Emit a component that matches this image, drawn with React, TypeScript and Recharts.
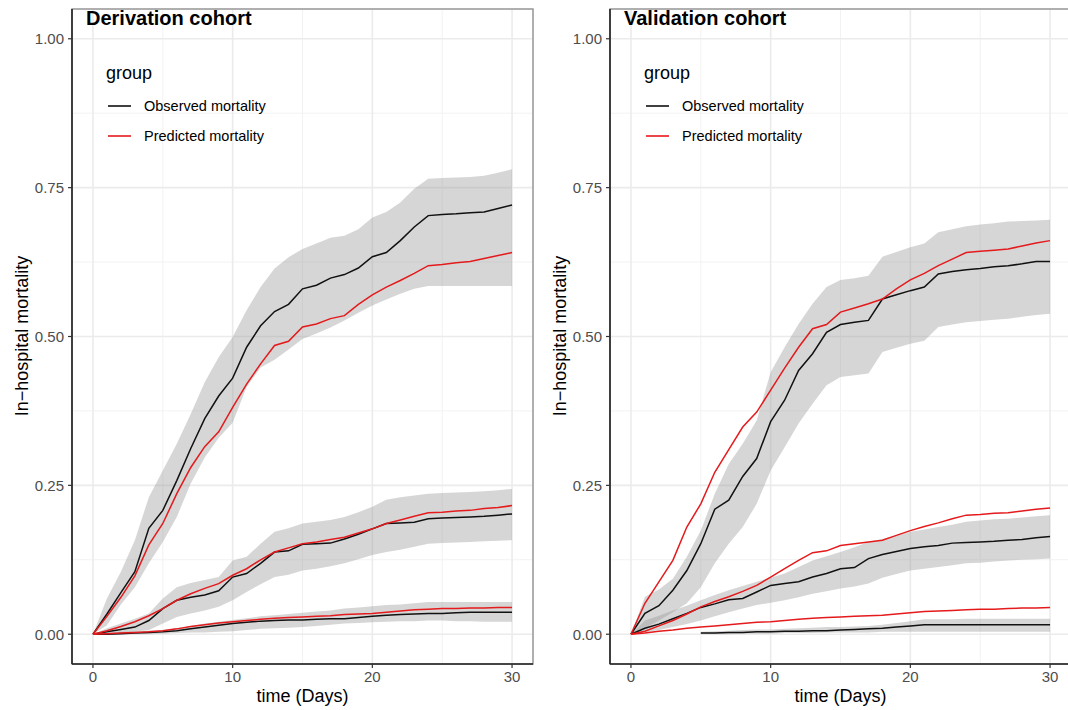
import React from 'react';
import { ComposedChart, Line, Area, XAxis, YAxis, CartesianGrid, Legend, ReferenceArea } from 'recharts';

const FONT = '"Liberation Sans", Arial, Helvetica, sans-serif';

const days = [0,1,2,3,4,5,6,7,8,9,10,11,12,13,14,15,16,17,18,19,20,21,22,23,24,25,26,27,28,29,30];
const xTicks = [0, 10, 20, 30];
const xMinorTicks = [5, 15, 25];
const yTicks = [0, 0.25, 0.5, 0.75, 1];
const yMinorTicks = [0.125, 0.375, 0.625, 0.875];
const legendLabels = ['Observed mortality', 'Predicted mortality'];
const panelTitles = ['Derivation cohort', 'Validation cohort'];

// Derivation cohort
const derHighObs = [0,0.034,0.07,0.105,0.178,0.208,0.258,0.312,0.362,0.4,0.43,0.482,0.518,0.542,0.554,0.58,0.586,0.598,0.604,0.615,0.634,0.641,0.661,0.684,0.703,0.705,0.706,0.708,0.709,0.715,0.721];
const derHighPred = [0,0.03,0.062,0.098,0.15,0.186,0.236,0.28,0.315,0.34,0.381,0.42,0.454,0.485,0.492,0.516,0.521,0.53,0.535,0.554,0.57,0.583,0.594,0.606,0.619,0.621,0.624,0.626,0.631,0.636,0.641];
const derHighLo = [0,0.015,0.05,0.079,0.119,0.155,0.197,0.253,0.297,0.33,0.355,0.415,0.448,0.461,0.478,0.496,0.505,0.515,0.527,0.54,0.552,0.562,0.572,0.58,0.585,0.585,0.585,0.585,0.585,0.585,0.585];
const derHighHi = [0,0.06,0.105,0.158,0.23,0.275,0.32,0.37,0.423,0.465,0.499,0.544,0.583,0.614,0.633,0.647,0.656,0.666,0.669,0.68,0.7,0.709,0.725,0.748,0.765,0.766,0.767,0.768,0.77,0.775,0.781];

const derMedObs = [0,0.004,0.008,0.012,0.023,0.043,0.057,0.062,0.066,0.073,0.096,0.102,0.119,0.138,0.14,0.151,0.152,0.153,0.16,0.168,0.177,0.186,0.187,0.188,0.194,0.195,0.196,0.197,0.198,0.2,0.202];
const derMedPred = [0,0.006,0.013,0.021,0.031,0.043,0.057,0.068,0.077,0.085,0.099,0.11,0.125,0.138,0.145,0.152,0.155,0.159,0.163,0.17,0.177,0.186,0.192,0.198,0.204,0.205,0.207,0.208,0.211,0.213,0.216];
const derMedLo = [0,0.001,0.002,0.004,0.007,0.018,0.029,0.035,0.04,0.046,0.057,0.071,0.084,0.096,0.1,0.107,0.11,0.114,0.119,0.126,0.133,0.138,0.142,0.147,0.152,0.153,0.154,0.155,0.156,0.157,0.158];
const derMedHi = [0,0.01,0.018,0.026,0.035,0.06,0.079,0.086,0.091,0.096,0.124,0.13,0.152,0.172,0.178,0.186,0.189,0.192,0.197,0.205,0.214,0.226,0.23,0.233,0.236,0.237,0.238,0.239,0.24,0.242,0.244];

const derLowObs = [0,0,0.001,0.002,0.003,0.004,0.006,0.009,0.012,0.015,0.018,0.02,0.022,0.023,0.024,0.024,0.025,0.026,0.026,0.028,0.03,0.032,0.033,0.034,0.035,0.035,0.036,0.037,0.037,0.037,0.037];
const derLowPred = [0,0.001,0.002,0.003,0.004,0.006,0.009,0.013,0.016,0.019,0.021,0.023,0.025,0.027,0.028,0.029,0.03,0.031,0.033,0.034,0.035,0.037,0.039,0.041,0.042,0.043,0.043,0.044,0.044,0.045,0.045];
const derLowLo = [0,0,0,0,0,0.001,0.002,0.003,0.003,0.004,0.005,0.007,0.009,0.01,0.011,0.012,0.014,0.016,0.018,0.019,0.02,0.021,0.022,0.022,0.023,0.023,0.022,0.022,0.021,0.021,0.021];
const derLowHi = [0,0.002,0.004,0.005,0.006,0.007,0.01,0.014,0.018,0.021,0.024,0.027,0.03,0.032,0.034,0.036,0.038,0.04,0.043,0.045,0.047,0.049,0.05,0.052,0.054,0.054,0.054,0.054,0.054,0.054,0.054];

// Validation cohort
const valHighObs = [0,0.035,0.048,0.074,0.107,0.152,0.21,0.225,0.265,0.295,0.357,0.393,0.443,0.471,0.507,0.52,0.524,0.527,0.563,0.57,0.577,0.583,0.605,0.609,0.612,0.614,0.617,0.619,0.622,0.626,0.626];
const valHighPred = [0,0.052,0.088,0.124,0.18,0.219,0.272,0.31,0.348,0.373,0.41,0.447,0.482,0.513,0.52,0.541,0.548,0.555,0.563,0.58,0.595,0.606,0.619,0.63,0.641,0.643,0.645,0.647,0.652,0.657,0.661];
const valHighLo = [0,0.01,0.023,0.037,0.052,0.079,0.119,0.152,0.18,0.219,0.275,0.314,0.354,0.387,0.418,0.432,0.435,0.438,0.474,0.481,0.488,0.493,0.516,0.52,0.524,0.526,0.528,0.53,0.533,0.536,0.538];
const valHighHi = [0,0.063,0.075,0.093,0.13,0.174,0.236,0.286,0.32,0.359,0.44,0.482,0.521,0.555,0.583,0.595,0.598,0.602,0.634,0.642,0.65,0.656,0.675,0.68,0.685,0.688,0.69,0.693,0.694,0.695,0.696];

const valMedObs = [0,0.01,0.017,0.026,0.035,0.045,0.051,0.058,0.06,0.071,0.082,0.085,0.088,0.096,0.102,0.11,0.112,0.127,0.134,0.139,0.144,0.147,0.149,0.153,0.154,0.155,0.156,0.158,0.159,0.162,0.164];
const valMedPred = [0,0.005,0.014,0.023,0.034,0.046,0.055,0.063,0.072,0.082,0.096,0.11,0.124,0.137,0.14,0.149,0.152,0.155,0.158,0.166,0.174,0.181,0.187,0.194,0.2,0.201,0.203,0.204,0.207,0.21,0.212];
const valMedLo = [0,0.003,0.007,0.012,0.017,0.023,0.03,0.037,0.043,0.049,0.053,0.057,0.062,0.068,0.072,0.077,0.08,0.085,0.095,0.101,0.107,0.11,0.113,0.116,0.119,0.12,0.122,0.124,0.125,0.126,0.127];
const valMedHi = [0,0.023,0.031,0.04,0.048,0.057,0.066,0.074,0.081,0.088,0.095,0.102,0.113,0.124,0.131,0.138,0.146,0.155,0.16,0.166,0.172,0.176,0.18,0.184,0.189,0.191,0.193,0.194,0.196,0.198,0.2];

const valLowObs = [null,null,null,null,null,0.002,0.002,0.003,0.003,0.004,0.004,0.005,0.005,0.006,0.006,0.007,0.008,0.009,0.01,0.012,0.014,0.016,0.016,0.016,0.016,0.016,0.016,0.016,0.016,0.016,0.016];
const valLowPred = [0,0.002,0.005,0.007,0.01,0.012,0.014,0.016,0.018,0.02,0.021,0.023,0.025,0.027,0.028,0.029,0.03,0.031,0.032,0.034,0.036,0.038,0.039,0.04,0.041,0.042,0.042,0.043,0.044,0.044,0.045];
const valLowLo = [null,null,null,null,null,0,0,0,0.001,0.001,0.001,0.002,0.002,0.002,0.003,0.003,0.003,0.003,0.004,0.004,0.004,0.004,0.004,0.004,0.004,0.004,0.004,0.004,0.004,0.004,0.004];
const valLowHi = [null,null,null,null,null,0.004,0.005,0.006,0.007,0.008,0.008,0.009,0.01,0.011,0.012,0.012,0.013,0.014,0.016,0.019,0.022,0.025,0.025,0.025,0.026,0.026,0.026,0.026,0.026,0.026,0.026];

type Group = { obs: (number | null)[]; pred: (number | null)[]; lo: (number | null)[]; hi: (number | null)[] };

const derGroups: Group[] = [
  { obs: derLowObs, pred: derLowPred, lo: derLowLo, hi: derLowHi },
  { obs: derMedObs, pred: derMedPred, lo: derMedLo, hi: derMedHi },
  { obs: derHighObs, pred: derHighPred, lo: derHighLo, hi: derHighHi },
];
const valGroups: Group[] = [
  { obs: valLowObs, pred: valLowPred, lo: valLowLo, hi: valLowHi },
  { obs: valMedObs, pred: valMedPred, lo: valMedLo, hi: valMedHi },
  { obs: valHighObs, pred: valHighPred, lo: valHighLo, hi: valHighHi },
];

function buildRows(groups: Group[]) {
  return days.map((d, i) => {
    const row: Record<string, any> = { day: d };
    groups.forEach((g, k) => {
      row['obs' + k] = g.obs[i];
      row['pred' + k] = g.pred[i];
      row['band' + k] = g.lo[i] == null || g.hi[i] == null ? null : [g.lo[i], g.hi[i]];
    });
    return row;
  });
}

const OBS_COLOR = '#111111';
const PRED_COLOR = '#e41a1c';
const X_DOMAIN: [number, number] = [-1.5, 31.5];
const Y_DOMAIN: [number, number] = [-0.05, 1.05];

const PanelLegend = ({ title }: { title: string }) => (
  <div style={{ position: 'relative', width: 320, height: 160, fontFamily: FONT, color: '#000' }}>
    <div style={{ position: 'absolute', left: 86, top: 8, fontSize: 20, lineHeight: '20px', fontWeight: 'bold', whiteSpace: 'nowrap' }}>{title}</div>
    <div style={{ position: 'absolute', left: 106, top: 63, fontSize: 18, lineHeight: '20px' }}>group</div>
    {[OBS_COLOR, PRED_COLOR].map((c, i) => (
      <React.Fragment key={i}>
        <svg style={{ position: 'absolute', left: 108, top: 101 + i * 30 }} width={23} height={10}>
          <line x1={0} y1={5} x2={23} y2={5} stroke={c} strokeWidth={1.6} />
        </svg>
        <div style={{ position: 'absolute', left: 144, top: 97 + i * 30, fontSize: 14.5, lineHeight: '18px', whiteSpace: 'nowrap' }}>{legendLabels[i]}</div>
      </React.Fragment>
    ))}
  </div>
);

function Panel({ groups, title, left }: { groups: Group[]; title: string; left: number }) {
  const rows = buildRows(groups);
  return (
    <div style={{ position: 'absolute', left, top: 0 }}>
      <ComposedChart width={541} height={710} data={rows} margin={{ top: 9, right: 8, bottom: 6, left: 12 }}>
        <XAxis xAxisId="minor" dataKey="day" type="number" domain={X_DOMAIN} ticks={xMinorTicks} hide allowDataOverflow />
        <YAxis yAxisId="minor" type="number" domain={Y_DOMAIN} ticks={yMinorTicks} hide allowDataOverflow />
        <CartesianGrid xAxisId="minor" yAxisId="minor" stroke="#f2f2f2" strokeWidth={1} />
        <CartesianGrid stroke="#ebebeb" strokeWidth={1.6} />
        <XAxis
          dataKey="day"
          type="number"
          domain={X_DOMAIN}
          ticks={xTicks}
          allowDataOverflow
          height={40}
          tickSize={4}
          tickMargin={3}
          axisLine={{ stroke: '#222', strokeWidth: 1.6 }}
          tickLine={{ stroke: '#333', strokeWidth: 1.2 }}
          tick={{ fill: '#4d4d4d', fontSize: 15, fontFamily: FONT }}
          label={{
            content: () => (
              <text x={302.5} y={702} textAnchor="middle" fontSize={18} fontFamily={FONT} fill="#000">time (Days)</text>
            ),
          }}
        />
        <YAxis
          type="number"
          domain={Y_DOMAIN}
          ticks={yTicks}
          allowDataOverflow
          width={60}
          tickSize={4}
          tickMargin={4}
          tickFormatter={(v: number) => v.toFixed(2)}
          axisLine={{ stroke: '#222', strokeWidth: 1.6 }}
          tickLine={{ stroke: '#333', strokeWidth: 1.2 }}
          tick={{ fill: '#4d4d4d', fontSize: 15, fontFamily: FONT }}
          label={{
            content: () => (
              <text x={0} y={0} transform="translate(28,336) rotate(-90)" textAnchor="middle" fontSize={18} fontFamily={FONT} fill="#000">In−hospital mortality</text>
            ),
          }}
        />
        <ReferenceArea x1={X_DOMAIN[0]} x2={X_DOMAIN[1]} y1={Y_DOMAIN[0]} y2={Y_DOMAIN[1]} fill="none" fillOpacity={0} stroke="#9a9a9a" strokeWidth={1.5} ifOverflow="visible" />
        {groups.map((_, k) => (
          <Area key={'band' + k} dataKey={'band' + k} type="linear" stroke="none" fill="#999999" fillOpacity={0.4} isAnimationActive={false} connectNulls={false} />
        ))}
        {groups.map((_, k) => (
          <Line key={'obs' + k} dataKey={'obs' + k} type="linear" stroke={OBS_COLOR} strokeWidth={1.5} dot={false} activeDot={false} isAnimationActive={false} connectNulls={false} />
        ))}
        {groups.map((_, k) => (
          <Line key={'pred' + k} dataKey={'pred' + k} type="linear" stroke={PRED_COLOR} strokeWidth={1.5} dot={false} activeDot={false} isAnimationActive={false} connectNulls={false} />
        ))}
        <Legend
          layout="horizontal"
          verticalAlign="middle"
          align="center"
          content={() => <PanelLegend title={title} />}
          wrapperStyle={{ top: 0, left: 0, width: 320, height: 160 }}
        />
      </ComposedChart>
    </div>
  );
}

export default function App() {
  return (
    <div style={{ position: 'absolute', left: 0, top: 0, width: 1068, height: 710, overflow: 'hidden', background: '#fff' }}>
      <Panel groups={derGroups} title={panelTitles[0]} left={0} />
      <Panel groups={valGroups} title={panelTitles[1]} left={538} />
    </div>
  );
}
